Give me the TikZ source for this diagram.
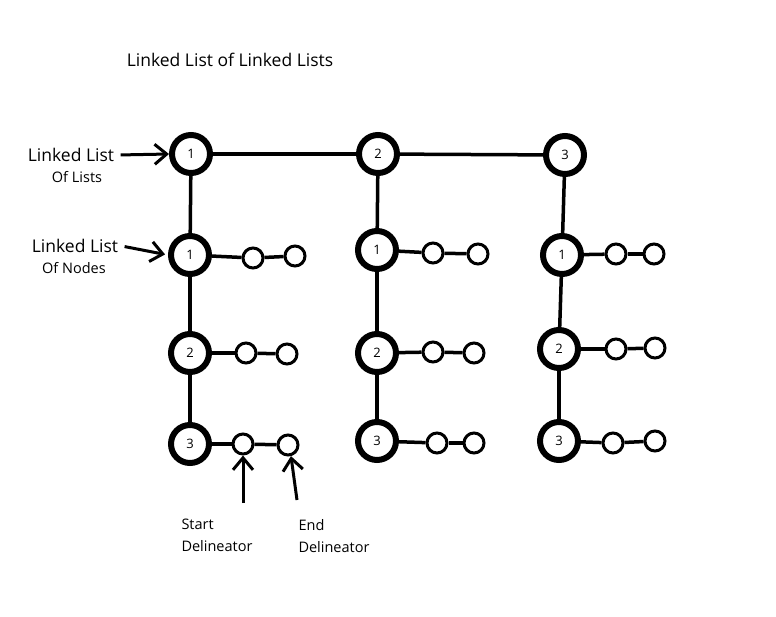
\documentclass[tikz,border=0pt]{standalone}
\usepackage{fontspec}
\setmainfont{Open Sans}
\usetikzlibrary{arrows.meta}

\begin{document}
\begin{tikzpicture}[x=1pt,y=-1pt,
  head/.style={circle,draw,line width=6pt,minimum size=38pt,inner sep=0pt,font=\fontsize{13}{13}\selectfont},
  delim/.style={circle,draw,line width=3pt,minimum size=20pt,inner sep=0pt},
  link/.style={line width=3.5pt},
  pointer/.style={line width=3pt,-{Straight Barb[length=12pt,width=20pt]}},
  big/.style={font=\fontsize{17.5}{17.5}\selectfont},
  small/.style={font=\fontsize{14.5}{14.5}\selectfont}]
\useasboundingbox (0,0) rectangle (776,616);
\node [big] (title) at (230,60) {Linked List of Linked Lists};
\node [head] (L1) at (191,154) {1};
\node [head] (L2) at (378,154) {2};
\node [head] (L3) at (565,155) {3};
\node [head] (n11) at (190,255) {1};
\node [head] (n12) at (190,353) {2};
\node [head] (n13) at (190,444) {3};
\node [head] (n21) at (377,250) {1};
\node [head] (n22) at (377,353) {2};
\node [head] (n23) at (377,441) {3};
\node [head] (n31) at (562,255) {1};
\node [head] (n32) at (559,349) {2};
\node [head] (n33) at (559,441) {3};
\node [delim] (s11) at (253,258) {};
\node [delim] (e11) at (295,256) {};
\node [delim] (s12) at (246,353) {};
\node [delim] (e12) at (287,354) {};
\node [delim] (s13) at (243,444) {};
\node [delim] (e13) at (288,445) {};
\node [delim] (s21) at (433,253) {};
\node [delim] (e21) at (478,254) {};
\node [delim] (s22) at (433,352) {};
\node [delim] (e22) at (474,353) {};
\node [delim] (s23) at (437,443) {};
\node [delim] (e23) at (474,443) {};
\node [delim] (s31) at (616,254) {};
\node [delim] (e31) at (654,254) {};
\node [delim] (s32) at (616,349) {};
\node [delim] (e32) at (655,348) {};
\node [delim] (s33) at (613,443) {};
\node [delim] (e33) at (655,441) {};
\draw [link] (L1) -- (L2);
\draw [link] (L2) -- (L3);
\foreach \c in {1,2,3} {
  \draw [link] (L\c) -- (n\c1);
  \draw [link] (n\c1) -- (n\c2);
  \draw [link] (n\c2) -- (n\c3);
  \foreach \r in {1,2,3} {
    \draw [link] (n\c\r) -- (s\c\r);
    \draw [link] (s\c\r) -- (e\c\r);
  }
}
\node [big] (lolA) at (71,155) {Linked List};
\node [small] (lolB) at (77,177) {Of Lists};
\node [big] (lonA) at (75,246) {Linked List};
\node [small] (lonB) at (74,268) {Of Nodes};
\node [small,anchor=west] (stA) at (178,524) {Start};
\node [small,anchor=west] (stB) at (178,546) {Delineator};
\node [small,anchor=west] (enA) at (295,525) {End};
\node [small,anchor=west] (enB) at (295,547) {Delineator};
\coordinate (stT) at (243,503);
\coordinate (enT) at (297,500);
\draw [pointer,shorten <=3pt] (lolA.east) -- (L1.west);
\draw [pointer,shorten <=3pt,shorten >=3pt] (lonA.east) -- (n11.west);
\draw [pointer] (stT) -- (s13.south);
\draw [pointer] (enT) -- (e13.-75);
\end{tikzpicture}
\end{document}
